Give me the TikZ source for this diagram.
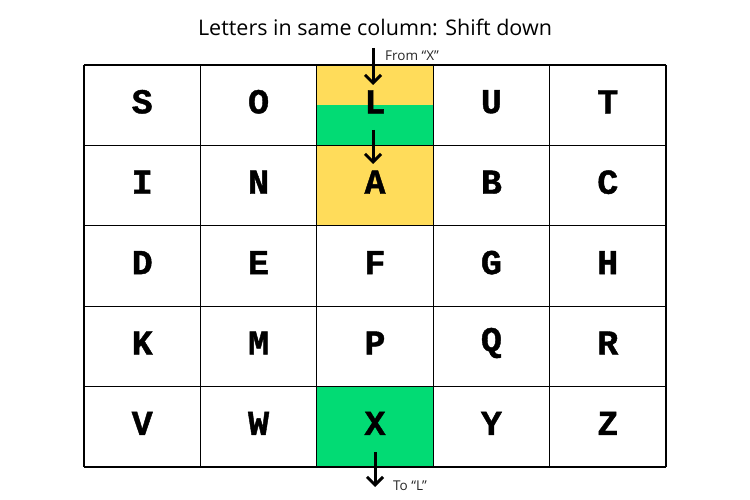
\documentclass[tikz,border=0pt]{standalone}
\usepackage{fontspec}
\setmainfont{Open Sans}
\newfontfamily\monob{Liberation Mono Bold}[FakeBold=1.2]
\usetikzlibrary{arrows.meta}
\definecolor{cyel}{HTML}{FFDC5A}
\definecolor{cgrn}{HTML}{02DB74}
\begin{document}
\begin{tikzpicture}[x=1pt,y=-1pt,
  letter/.style={font=\monob\fontsize{35}{35}\selectfont, text=black, inner sep=0pt},
  arr/.style={line width=3pt, -{Straight Barb[length=8pt,width=16pt,line width=3pt]}},
  small/.style={font=\fontsize{13.5}{15}\selectfont, text=black!85, anchor=west, inner sep=0pt}]
\useasboundingbox (0,0) rectangle (750,500);
% fills
\fill[cyel] (317,65) rectangle (433,105);
\fill[cgrn] (317,105) rectangle (433,146);
\fill[cyel] (317,146) rectangle (433,226);
\fill[cgrn] (317,387) rectangle (433,467);
% grid
\foreach \x in {84,200.4,316.8,433.2,549.6,666} \draw[line width=1.3pt] (\x,65) -- (\x,467);
\foreach \y in {65,145.4,225.8,306.2,386.6,467} \draw[line width=1.3pt] (84,\y) -- (666,\y);
% letters
\foreach \row [count=\r from 0] in {{S,O,L,U,T},{I,N,A,B,C},{D,E,F,G,H},{K,M,P,Q,R},{V,W,X,Y,Z}}{
  \foreach \l [count=\c from 0] in \row {
    \node[letter] (n\l) at ({142.2+116.4*\c},{101.8+80.4*\r}) {\l};
  }
}
% title
\node[font=\fontsize{21.5}{24}\selectfont] (title) at (375,27) {Letters in same column: Shift down};
% arrows
\coordinate (a1s) at (373,48);
\coordinate (a1e) at (373,85);
\draw[arr] (a1s) -- (a1e);
\node[small] (from) at (385,56) {From “X”};
\coordinate (a2s) at (373,130);
\coordinate (a2e) at (373,164);
\draw[arr] (a2s) -- (a2e);
\coordinate (a3s) at (375,452);
\coordinate (a3e) at (375,487);
\draw[arr] (a3s) -- (a3e);
\node[small] (to) at (393,486) {To “L”};
\end{tikzpicture}
\end{document}
